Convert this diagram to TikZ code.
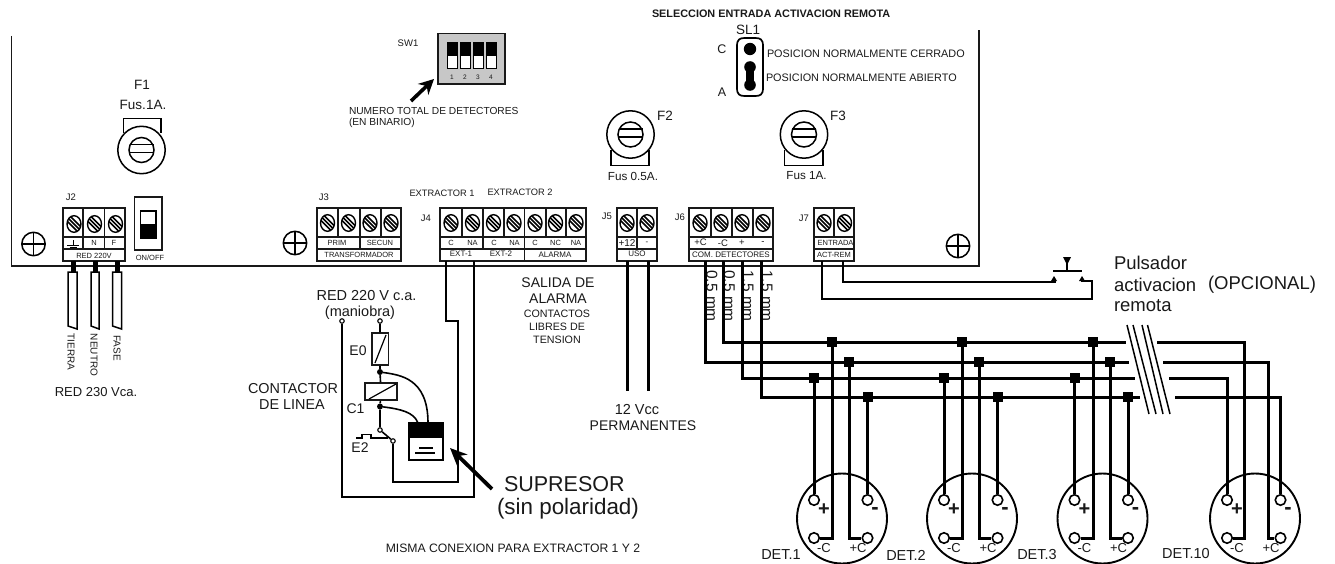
\documentclass[tikz,border=0pt]{standalone}
\usepackage{fontspec}
\setmainfont{Liberation Sans}
\usetikzlibrary{arrows.meta}
\newcommand{\fsz}[1]{\fontsize{#1pt}{#1pt}\selectfont}
\tikzset{
  txt/.style={inner sep=0pt,outer sep=0pt,text=black!90,font=\fsz{#1}},
  tl/.style={txt=#1,anchor=west},
  tr/.style={txt=#1,rotate=-90},
  box/.style={draw=black!90,line width=1.6pt},
  thin wire/.style={draw=black,line width=1.6pt},
  bus/.style={draw=black,line width=3pt},
  board/.style={draw=black!90,line width=1.8pt},
  jn/.style={fill=black,inner sep=0pt,minimum size=10pt,rectangle},
  dot/.style={circle,fill=black,inner sep=0pt,minimum size=6pt},
  term/.style={circle,draw=black,fill=white,line width=1.1pt,inner sep=0pt,minimum size=4.5pt},
  pin/.style={circle,draw=black,fill=white,line width=1.6pt,inner sep=0pt,minimum size=10.5pt},
  bigarrow/.style={line width=3.8pt,black,-{Stealth[length=17pt,width=15pt]}},
}
\newcommand{\screw}[2]{%
  \begin{scope}[shift={(#1,#2)}]
    \draw[line width=1.4pt,black] (0,0) ellipse (7pt and 8.3pt);
    \clip (0,0) ellipse (7pt and 8.3pt);
    \foreach \k in {-4,0,4}{\draw[line width=1.5pt,black] (-8+\k,-8) -- (8+\k,8);}
  \end{scope}}
\newcommand{\blockframe}[2]{%
  \draw[box] (#1,208) rectangle (#2,261);
  \draw[box] (#1,237) -- (#2,237);
  \draw[box] (#1,249) -- (#2,249);}
\newcommand{\fuse}[2]{%
  \draw[line width=1.5pt] (#1,#2) circle (23.7pt);
  \draw[line width=1.5pt] (#1,#2) circle (12.5pt);
  \draw[line width=1.2pt] (#1-12,#2-5.5) -- (#1+12,#2-5.5);
  \draw[line width=1.6pt] (#1-12,#2+2.5) -- (#1+12,#2+2.5);}
\newcommand{\mount}[2]{%
  \draw[line width=1.5pt] (#1,#2) circle (11.7pt);
  \draw[line width=1.3pt] (#1-11.7,#2) -- (#1+11.7,#2) (#1,#2-11.7) -- (#1,#2+11.7);}
\newcommand{\detector}[2]{%
  \draw[line width=1.9pt] (#2,518.5) circle (45pt);
  \node[pin] (#1p) at (#2-28,500) {};
  \node[pin] (#1m) at (#2+25.5,500) {};
  \node[pin] (#1nc) at (#2-28,538) {};
  \node[pin] (#1pc) at (#2+25.5,538) {};
  \node[txt=20,font=\fsz{20}\bfseries] (#1pl) at (#2-18,510) {+};
  \node[txt=20,font=\fsz{22}\bfseries] (#1ml) at (#2+33,510.5) {-};
  \node[txt=13] (#1ncl) at (#2-18,548) {-C};
  \node[txt=13] (#1pcl) at (#2+16,548) {+C};}
\begin{document}
\begin{tikzpicture}[x=1pt,y=-1pt]
\useasboundingbox (0,0) rectangle (1335,564);
% board outline
\draw[board] (11.5,36) -- (11.5,266) -- (979,266) -- (979,30);
% top text
\node[txt=10.8,font=\fsz{10.85}\bfseries,anchor=west] (seltxt) at (652,13.5) {SELECCION ENTRADA ACTIVACION REMOTA};
\node[txt=13.5] (sl1) at (748,30) {SL1};
\node[txt=12.5] (slc) at (722,49) {C};
\node[txt=12.5] (sla) at (722,92) {A};
\node[tl=10.85] (posc) at (767,54) {POSICION NORMALMENTE CERRADO};
\node[tl=10.85] (posa) at (766,78) {POSICION NORMALMENTE ABIERTO};
\draw[line width=1.7pt,black] (737,46) .. controls (737,39) and (740,38) .. (745,38) -- (755,38) .. controls (760,38) and (763,39) .. (763,46) -- (763,88) .. controls (763,95) and (760,96) .. (755,96) -- (745,96) .. controls (740,96) and (737,95) .. (737,88) -- cycle;
\fill (750,49) circle (6.2pt);
\fill (750,67) circle (5.8pt) (750,85) circle (5.8pt);
\fill (746,67) rectangle (754,85);
% SW1
\node[txt=9.5] (sw1) at (408,43) {SW1};
\draw[draw=black!90,fill=black!22,line width=1.2pt] (438,33.5) rectangle (505,84);
\foreach \xa/\n in {447/1,460/2,473/3,486/4}{
  \draw[fill=white,line width=1pt] (\xa,43) rectangle (\xa+10.5,69);
  \fill[black] (\xa,43) rectangle (\xa+10.5,56);
  \node[txt=6.5] (swn\n) at (\xa+5,77) {\n};
}
\coordinate (swa) at (411,101);
\coordinate (swb) at (434,79);
\draw[line width=3.6pt,black,-{Stealth[length=15pt,width=15pt]}] (swa) -- (swb);
\node[tl=10.2] (num) at (349,110.5) {NUMERO TOTAL DE DETECTORES};
\node[tl=10.2] (bin) at (349,122.5) {(EN BINARIO)};
% fuses
\node[txt=13.5] (f1) at (142,85) {F1};
\node[txt=13.5] (f1t) at (143,105) {Fus.1A.};
\draw[line width=1.5pt] (123.5,133) |- (161,118.5) -- (161,133);
\fuse{141.5}{150}
\draw[line width=1.5pt] (611,150) |- (649,165.5) -- (649,150);
\fuse{630.5}{134.5}
\node[txt=13.5] (f2) at (665,116) {F2};
\node[txt=11.7] (f2t) at (633,176) {Fus 0.5A.};
\draw[line width=1.5pt] (784.5,150) |- (823,165.5) -- (823,150);
\fuse{804}{134.5}
\node[txt=13.5] (f3) at (838,116) {F3};
\node[txt=11.7] (f3t) at (806.5,175.5) {Fus 1A.};
% mounting
\mount{33.5}{244}
\mount{295}{243}
\mount{958}{246}
% ON OFF
\draw[line width=1.6pt,black!90] (134.5,197) rectangle (162,250);
\draw[line width=1.2pt] (140.5,211) rectangle (156,238);
\fill (140.5,224) rectangle (156,238);
\node[txt=7.5] (onoff) at (150,258) {ON/OFF};
% J labels
\node[txt=9.5] (j2) at (71,197) {J2};
\node[txt=9.5] (j3) at (324,197) {J3};
\node[txt=9.5] (j4) at (426,218) {J4};
\node[txt=9.5] (j5) at (607,216.5) {J5};
\node[txt=9.5] (j6) at (680,217) {J6};
\node[txt=9.5] (j7) at (804,218) {J7};
\node[txt=9.3] (ex1) at (442,193) {EXTRACTOR 1};
\node[txt=9.3] (ex2) at (520,192.5) {EXTRACTOR 2};
% J2
\blockframe{63}{125}
\draw[box] (83,208) -- (83,249) (104.5,208) -- (104.5,249);
\screw{74}{224}\screw{94.5}{224}\screw{115.5}{224}
\draw[line width=.8pt] (67,245) -- (79,245) (69.5,247) -- (76.5,247) (73,240) -- (73,245);
\node[txt=7.5] (j2n) at (94,243) {N};
\node[txt=7.5] (j2f) at (114,243) {F};
\node[txt=7.5] (j2r) at (94,255.5) {RED 220V};
% J3
\blockframe{317}{401}
\draw[box] (338,208) -- (338,237) (360,208) -- (360,249) (381,208) -- (381,237);
\screw{327.5}{223}\screw{348.5}{223}\screw{370}{223}\screw{391}{223}
\node[txt=7.5] (j3p) at (337,242.5) {PRIM};
\node[txt=7.5] (j3s) at (380,242.5) {SECUN};
\node[txt=7.5] (j3t) at (359,254.5) {TRANSFORMADOR};
% J4
\blockframe{440}{586}
\draw[box] (462,208) -- (462,237) (483,208) -- (483,249) (504,208) -- (504,237) (524.5,208) -- (524.5,261) (546,208) -- (546,237) (566,208) -- (566,237);
\foreach \xx in {451,472.5,493.5,514,535,555.5,576}{\screw{\xx}{223}}
\node[txt=7.5] (j4a) at (451,243) {C};
\node[txt=7.5] (j4b) at (472.5,243) {NA};
\node[txt=7.5] (j4c) at (494,243) {C};
\node[txt=7.5] (j4d) at (514.5,243) {NA};
\node[txt=7.5] (j4e) at (535,243) {C};
\node[txt=7.5] (j4f) at (555.5,243) {NC};
\node[txt=7.5] (j4g) at (576,243) {NA};
\node[txt=8] (j4h) at (461,254) {EXT-1};
\node[txt=8] (j4i) at (501,253.5) {EXT-2};
\node[txt=8] (j4j) at (555,255) {ALARMA};
% J5
\blockframe{617}{657}
\draw[box] (637,208) -- (637,249);
\screw{627}{223}\screw{647}{223}
\node[txt=10] (j5a) at (627,243) {+12};
\node[txt=8] (j5b) at (647,243) {-};
\node[txt=8] (j5c) at (637,254) {USO};
% J6
\blockframe{689}{773}
\draw[box] (711,208) -- (711,237) (732,208) -- (732,237) (753,208) -- (753,237);
\screw{700}{223}\screw{721}{223}\screw{742}{223}\screw{763}{223}
\node[txt=9.5] (j6a) at (700.5,242.5) {+C};
\node[txt=9.5] (j6b) at (723,243) {-C};
\node[txt=9.5] (j6c) at (742,242.5) {+};
\node[txt=9.5] (j6d) at (763,243) {-};
\node[txt=8] (j6e) at (731,255) {COM. DETECTORES};
% J7
\blockframe{814}{854}
\draw[box] (834,208) -- (834,237);
\screw{824}{223}\screw{844.5}{223}
\node[txt=7.5] (j7a) at (835.5,242.5) {ENTRADA};
\node[txt=7.5] (j7b) at (834,255) {ACT-REM};
% Mains tails
\foreach \xa/\xb/\xc in {73/68/77,95/91/99,117/112.5/121.5}{
  \draw[line width=5pt] (\xa,261) -- (\xa,272);
  \draw[line width=1.5pt,fill=white] (\xb,272) -- (\xc,272) -- (\xc,329) -- (\xb,326) -- cycle;
}
\node[tr=10] (ti) at (71,352) {TIERRA};
\node[tr=10] (ne) at (94,355) {NEUTRO};
\node[tr=10] (fa) at (117,348) {FASE};
\node[txt=13] (r230) at (96,392) {RED 230 Vca.};
% J5 wires
\coordinate (w5a) at (627,261); \coordinate (w5ae) at (627,391);
\coordinate (w5b) at (648,261); \coordinate (w5be) at (648,391);
\draw[line width=3pt] (w5a) -- (w5ae) (w5b) -- (w5be);
\node[txt=14.5] (v12) at (637,410) {12 Vcc};
\node[txt=14] (perm) at (643,426) {PERMANENTES};
% alarm text
\node[txt=14] (sal1) at (558,283) {SALIDA DE};
\node[txt=14] (sal2) at (558,299) {ALARMA};
\node[txt=10.7] (sal3) at (557,314) {CONTACTOS};
\node[txt=10.7] (sal4) at (557,327) {LIBRES DE};
\node[txt=10.7] (sal5) at (557,340) {TENSION};
% extractor circuit
\node[txt=14.5] (r220) at (366.5,296) {RED 220 V c.a.};
\node[txt=14.5] (man) at (360,312.5) {(maniobra)};
\node[term] (ta) at (342,321) {};
\node[term] (tb) at (380,321) {};
\node[draw=black!90,line width=1.5pt,inner sep=0,minimum width=16.5pt,minimum height=32pt] (e0) at (380,349) {};
\draw[line width=1.2pt] (375,363) -- (386,335);
\node[draw=black!90,line width=1.5pt,inner sep=0,minimum width=32pt,minimum height=17pt] (c1) at (381,391.5) {};
\draw[line width=1.2pt] (369,399) -- (396,384);
\node[dot] (d1) at (380,372) {};
\node[dot] (d2) at (380,406.5) {};
\node[term] (sw0) at (380,430) {};
\node[term] (sw1t) at (393,441) {};
\node[txt=14] (e0l) at (358,351) {E0};
\node[txt=14] (c1l) at (355.5,409) {C1};
\node[txt=14] (e2l) at (360,448) {E2};
\node[txt=14.4] (con1) at (293,389) {CONTACTOR};
\node[txt=14.4] (con2) at (292,405) {DE LINEA};
\draw[thin wire] (tb) -- (e0) (e0) -- (d1) (d1) -- (c1) (c1) -- (d2) (d2) -- (sw0) (sw0) -- (sw1t);
\draw[line width=1.2pt] (356,438) -- (362,438) -- (362,434.5) -- (371,434.5) -- (371,438) -- (388,438);
% supresor
\draw[line width=1.5pt,fill=white] (409,423) rectangle (443,460);
\fill (409,423) rectangle (443,438);
\draw[line width=1.2pt] (419,448) -- (433,448);
\draw[line width=2.2pt] (415,453) -- (435,453);
\coordinate (sa) at (428,423);
\coordinate (sb) at (418,423);
\draw[line width=1.6pt] (d1) .. controls (400,375) and (428,378) .. (sa);
\draw[line width=1.6pt] (d2) .. controls (400,409) and (414,412) .. (sb);
\coordinate (e1a) at (446,261);
\coordinate (e1b) at (474,261);
\draw[thin wire] (e1a) |- (458,321) |- (393,482) -- (sw1t);
\draw[thin wire] (e1b) |- (342,497) -- (ta);
\coordinate (aa) at (492,489);
\coordinate (ab) at (450,448);
\draw[bigarrow] (aa) -- (ab);
\node[tl=21.5] (sup) at (504,484) {SUPRESOR};
\node[tl=22.4] (pol) at (497,509) {(sin polaridad)};
\node[txt=12.2] (misma) at (513,548) {MISMA CONEXION PARA EXTRACTOR 1 Y 2};
% Remote
\coordinate (r1) at (843,261);
\coordinate (r2) at (822,261);
\coordinate (pl) at (1056,282);
\coordinate (pr) at (1081,281);
\draw[thin wire] (r1) |- (pl);
\draw[thin wire] (r2) |- (1092,299) |- (pr);
\draw[line width=2pt] (1053,271) -- (1082,271);
\draw[line width=2.4pt] (1067,271) -- (1067,260);
\fill (1063,257) -- (1071,257) -- (1067,265) -- cycle;
\fill (1051,281) -- (1057,281) -- (1054,276) -- cycle;
\fill (1079,281) -- (1085,281) -- (1082,276) -- cycle;
\node[tl=18.5] (pul1) at (1114,263) {Pulsador};
\node[tl=18.5] (pul2) at (1114,285) {activacion};
\node[tl=18.5] (pul3) at (1208,285) {(OPCIONAL)};
\node[tl=18.5] (pul4) at (1114,306) {remota};
% wire labels
\node[tr=15.5] (wa) at (712,296) {0.5 mm};
\node[tr=15.5] (wb) at (729.5,296) {0.5 mm};
\node[tr=15.5] (wc) at (748,296) {1.5 mm};
\node[tr=15.5] (wd) at (767,296) {1.5 mm};
% break
\foreach \xa/\xb in {1127/1149,1133/1156,1142/1163,1147.5/1170}{
  \draw[line width=1.5pt] (\xa,325) -- (\xb,414);
}
% detectors
\detector{da}{842}
\detector{db}{972}
\detector{dc}{1102.5}
\detector{dd}{1255}
\node[txt=14.5] (dl1) at (781,555) {DET.1};
\node[txt=14.5] (dl2) at (906,555) {DET.2};
\node[txt=14.5] (dl3) at (1037,555) {DET.3};
\node[txt=14.5] (dl10) at (1186,554) {DET.10};
% bus
\coordinate (b1) at (705,261);
\coordinate (b2) at (723,261);
\coordinate (b3) at (742,261);
\coordinate (b4) at (761,261);
\draw[bus] (b2) |- (1126,342);
\draw[bus] (b1) |- (1129,362);
\draw[bus] (b3) |- (1135,378);
\draw[bus] (b4) |- (1140,397);
% junctions and drops
\foreach \id/\xm/\xp/\xa/\xb in {da/814/867.5/832/849,db/944/997.5/962/979,dc/1074.5/1128/1093/1110}{
  \node[jn] (\id ja) at (\xa,342) {};
  \node[jn] (\id jb) at (\xb,362) {};
  \node[jn] (\id jc) at (\xm,378) {};
  \node[jn] (\id jd) at (\xp,397) {};
  \draw[bus] (\id jc) -- (\id p);
  \draw[bus] (\id jd) -- (\id m);
  \draw[bus] (\id ja) |- (\id nc);
  \draw[bus] (\id jb) |- (\id pc);
}
% beyond break
\draw[bus] (1157,342) -| (1244,538) -- (ddnc);
\draw[bus] (1163,362) -| (1268,538) -- (ddpc);
\draw[bus] (1169,378) -| (ddp);
\draw[bus] (1175,397) -| (ddm);
\end{tikzpicture}
\end{document}
